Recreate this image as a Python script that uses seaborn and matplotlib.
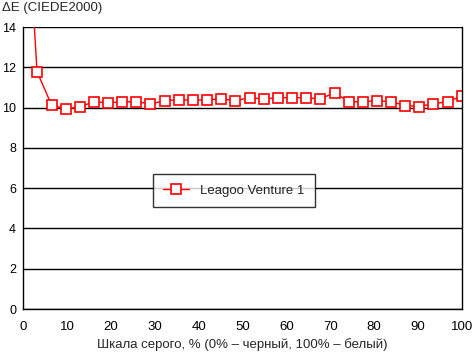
import matplotlib
matplotlib.use("Agg")
import matplotlib.pyplot as plt
import seaborn as sns
import pandas as pd

gray_pct = [0, 3.2, 6.5, 9.7, 12.9, 16.1, 19.4, 22.6, 25.8, 29.0, 32.3, 35.5, 38.7,
            41.9, 45.2, 48.4, 51.6, 54.8, 58.1, 61.3, 64.5, 67.7, 71.0, 74.2, 77.4,
            80.6, 83.9, 87.1, 90.3, 93.5, 96.8, 100]
delta_e = [23.4, 11.78, 10.13, 9.93, 10.03, 10.29, 10.24, 10.29, 10.29, 10.18, 10.34,
           10.39, 10.36, 10.39, 10.43, 10.34, 10.49, 10.43, 10.49, 10.49, 10.49, 10.43,
           10.74, 10.29, 10.29, 10.34, 10.29, 10.10, 10.05, 10.20, 10.29, 10.59]
series_name = "Leagoo Venture 1"
x_ticks = [0, 10, 20, 30, 40, 50, 60, 70, 80, 90, 100]
y_ticks = [0, 2, 4, 6, 8, 10, 12, 14]

df = pd.DataFrame({"x": gray_pct, "y": delta_e, "s": series_name})

sns.set_style("white")
plt.rcParams["font.family"] = ["Liberation Sans", "DejaVu Sans"]

fig = plt.figure(figsize=(4.72, 3.52), dpi=100)
ax = fig.add_axes([23/472, 43/352, 439/472, 282/352])

sns.lineplot(data=df, x="x", y="y", hue="s", palette=["#ff0000"], ax=ax,
             marker="s", markersize=6.5, markerfacecolor="white",
             markeredgecolor="#ff0000", markeredgewidth=1.2, linewidth=1.0)

ax.set_xlim(0, 100)
ax.set_ylim(0, 14)
ax.set_xticks(x_ticks)
ax.set_yticks(y_ticks)
ax.yaxis.grid(True, color="black", linewidth=1.0)
ax.set_axisbelow(True)
for sp in ["left", "bottom", "right"]:
    ax.spines[sp].set_visible(True)
    ax.spines[sp].set_color("black")
    ax.spines[sp].set_linewidth(1.0)
ax.spines["top"].set_visible(False)
ax.tick_params(axis="both", direction="out", width=1, color="black",
               labelcolor="black")
ax.tick_params(axis="x", length=4, pad=5, labelsize=9.5)
ax.tick_params(axis="y", length=3, pad=2, labelsize=9)
ax.set_xlabel("Шкала серого, % (0% – черный, 100% – белый)", fontsize=9.5, labelpad=3)
ax.set_ylabel("")
fig.text(2/472, 1 - 8/352, "ΔE (CIEDE2000)", fontsize=9.5, va="center", ha="left")

leg = ax.legend(loc="center", bbox_to_anchor=(0.48, 0.42), frameon=True,
                fancybox=False, edgecolor="black", fontsize=9.5, borderpad=0.8,
                handlelength=2.0)
leg.get_frame().set_linewidth(1.0)

fig.savefig("out.png", dpi=100)
